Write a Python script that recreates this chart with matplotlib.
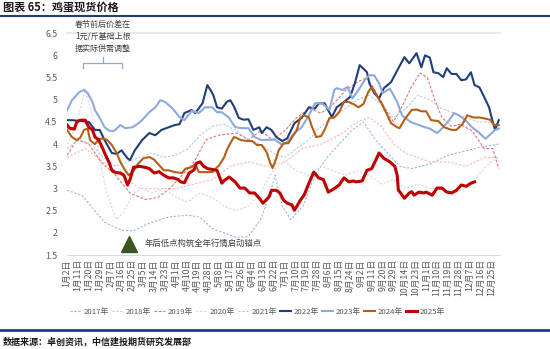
import matplotlib
matplotlib.use('Agg')
import matplotlib.pyplot as plt

plt.rcParams['font.family'] = ['Noto Sans CJK SC', 'DejaVu Sans']

# 横轴为交易日序号，每9个交易日标注一个日期
tick_labels = ['1月2日', '1月11日', '1月20日', '1月29日', '2月7日', '2月16日', '2月25日',
               '3月5日', '3月14日', '3月23日', '4月1日', '4月10日', '4月19日', '4月28日',
               '5月8日', '5月17日', '5月26日', '6月4日', '6月13日', '6月22日', '7月1日',
               '7月10日', '7月19日', '7月28日', '8月6日', '8月15日', '8月24日', '9月2日',
               '9月11日', '9月20日', '9月29日', '10月14日', '10月23日', '11月1日', '11月10日',
               '11月19日', '11月28日', '12月7日', '12月16日', '12月25日']
y_ticks = [1.5, 2, 2.5, 3, 3.5, 4, 4.5, 5, 5.5, 6, 6.5]

# 各年份鸡蛋现货价格（元/斤）
x2017 = [0, 12, 23, 31, 45, 55, 68, 84, 100, 110, 120, 130, 140, 150, 160, 168, 172, 178, 185,
         195, 205, 215, 225, 235, 245, 255, 265, 275, 285, 300, 315, 330, 345, 357]
y2017 = [2.96, 2.85, 2.5, 2.24, 2.06, 2.05, 2.22, 2.36, 2.4, 2.35, 2.1, 2.0, 1.9, 1.92, 2.3,
         2.9, 3.3, 2.6, 2.3, 2.6, 3.3, 3.7, 4.0, 4.3, 4.5, 4.1, 3.8, 3.5, 3.45, 3.55, 3.75,
         3.85, 3.95, 4.0]
x2018 = [0, 15, 30, 45, 60, 75, 90, 105, 120, 135, 150, 165, 180, 195, 210, 225, 240, 250,
         260, 270, 280, 290, 300, 315, 330, 345, 357]
y2018 = [3.7, 3.9, 3.6, 3.3, 3.0, 3.0, 3.0, 3.1, 3.2, 3.5, 3.6, 3.5, 3.6, 3.9, 4.0, 4.2, 4.5,
         4.6, 4.4, 4.0, 3.8, 3.7, 3.6, 3.6, 3.5, 3.7, 3.7]
x2019 = [0, 8, 18, 28, 40, 52, 65, 75, 85, 95, 105, 115, 125, 140, 150, 160, 170, 180, 190,
         200, 210, 220, 230, 240, 248, 255, 265, 270, 278, 285, 292, 298, 304, 310, 318, 325,
         335, 345, 352, 357]
y2019 = [3.75, 4.1, 4.0, 3.6, 3.3, 2.9, 2.75, 2.8, 3.0, 3.3, 3.6, 4.1, 4.2, 4.25, 4.1, 4.3,
         4.1, 4.3, 4.6, 4.8, 4.7, 4.9, 5.2, 5.4, 5.5, 5.2, 4.7, 4.5, 4.9, 5.3, 5.6, 5.5, 5.0,
         4.6, 4.4, 4.45, 4.3, 3.9, 3.9, 3.45]
x2020 = [0, 6, 11, 15, 20, 24, 28, 33, 38, 41, 46, 50, 55, 62, 70, 80, 90, 100, 110, 120, 130,
         140, 150, 160, 170, 180, 190, 200, 210, 220, 230, 240, 250, 260, 270, 280, 290, 300,
         310, 320, 330, 340, 350, 357]
y2020 = [4.0, 4.3, 4.8, 5.25, 4.7, 4.2, 3.5, 2.9, 2.5, 2.3, 2.45, 2.65, 2.9, 3.0, 2.9, 3.0,
         2.8, 2.7, 2.9, 2.8, 2.6, 2.5, 2.6, 2.9, 3.4, 3.6, 3.4, 3.3, 3.5, 3.4, 3.3, 3.4, 3.3,
         3.1, 3.2, 3.0, 3.1, 3.0, 3.0, 2.9, 3.0, 3.3, 3.6, 3.7]
x2021 = [0, 10, 20, 30, 40, 50, 60, 70, 80, 90, 100, 110, 120, 130, 140, 150, 160, 170, 180,
         190, 200, 210, 220, 230, 240, 250, 260, 270, 280, 290, 300, 310, 320, 330, 340, 350,
         357]
y2021 = [3.9, 4.1, 4.0, 3.7, 3.5, 3.6, 3.7, 3.8, 3.7, 3.75, 3.9, 4.2, 4.4, 4.45, 4.3, 4.1,
         4.0, 3.8, 3.7, 3.9, 4.1, 4.4, 4.6, 4.8, 5.0, 5.1, 4.9, 4.6, 4.8, 5.1, 5.0, 4.8, 4.7,
         4.6, 4.5, 4.5, 4.45]
x2022 = [0, 4, 12, 18, 23, 27, 31, 37, 41, 45, 50, 52, 56, 62, 68, 73, 78, 84, 89, 93, 97,
         103, 106, 112, 116, 119, 121, 124, 128, 132, 135, 138, 142, 146, 150, 154, 159, 161,
         165, 169, 173, 178, 182, 188, 194, 200, 205, 208, 213, 219, 223, 229, 234, 238, 242,
         245, 248, 250, 254, 258, 262, 268, 274, 279, 283, 289, 293, 296, 300, 303, 307, 311,
         314, 318, 322, 326, 330, 334, 337, 341, 345, 349, 351, 354, 357]
y2022 = [4.54, 4.54, 4.52, 4.5, 4.32, 4.32, 4.09, 3.8, 3.78, 3.86, 3.68, 3.64, 3.86, 4.09,
         4.25, 4.2, 4.32, 4.38, 4.43, 4.45, 4.7, 4.77, 4.7, 4.92, 5.33, 5.2, 5.1, 4.83, 4.8,
         4.95, 4.99, 4.85, 4.59, 4.55, 4.56, 4.32, 4.38, 4.25, 4.38, 4.32, 4.16, 4.07, 4.13,
         4.47, 4.59, 4.83, 4.8, 4.92, 4.92, 4.61, 4.83, 4.95, 5.06, 5.37, 5.78, 5.7, 5.62,
         5.37, 5.15, 5.03, 5.26, 5.4, 5.71, 5.96, 5.82, 6.05, 5.73, 6.0, 5.95, 5.62, 5.6, 5.51,
         5.71, 5.58, 5.58, 5.44, 5.46, 5.62, 5.33, 5.28, 5.06, 4.83, 4.61, 4.32, 4.54]
x2023 = [0, 4, 10, 14, 17, 21, 23, 27, 31, 35, 39, 44, 48, 54, 58, 62, 68, 73, 77, 81, 87, 93,
         97, 103, 109, 114, 120, 124, 128, 134, 139, 145, 150, 155, 161, 167, 172, 178, 182,
         188, 194, 200, 205, 211, 217, 221, 223, 228, 232, 236, 242, 246, 250, 254, 258, 261,
         267, 273, 277, 284, 292, 296, 300, 306, 310, 316, 320, 324, 329, 335, 341, 346, 350,
         354, 357]
y2023 = [4.77, 4.99, 5.17, 5.22, 5.15, 4.95, 4.77, 4.59, 4.38, 4.3, 4.3, 4.43, 4.36, 4.38,
         4.45, 4.54, 4.72, 4.83, 4.99, 4.95, 4.81, 4.61, 4.54, 4.75, 4.7, 4.83, 4.83, 4.72,
         4.72, 4.59, 4.38, 4.36, 4.36, 4.16, 4.09, 4.1, 4.1, 3.98, 4.05, 4.25, 4.38, 4.65,
         4.92, 4.92, 4.77, 5.22, 5.26, 5.22, 5.29, 5.03, 5.26, 5.44, 5.55, 5.55, 5.37, 5.15,
         5.25, 4.95, 4.65, 4.5, 4.42, 4.38, 4.35, 4.25, 4.35, 4.54, 4.7, 4.65, 4.55, 4.38,
         4.25, 4.12, 4.22, 4.32, 4.35]
x2024 = [0, 4, 8, 11, 14, 17, 19, 23, 26, 29, 33, 37, 41, 44, 48, 51, 55, 59, 63, 68, 72, 76,
         80, 84, 89, 95, 98, 103, 106, 109, 115, 120, 126, 130, 132, 135, 138, 140, 144, 149,
         153, 157, 161, 165, 168, 170, 172, 175, 179, 183, 186, 190, 193, 196, 200, 202, 206,
         210, 213, 217, 221, 225, 229, 233, 237, 241, 245, 249, 252, 256, 260, 264, 268, 273,
         275, 279, 285, 289, 293, 297, 301, 307, 312, 318, 322, 327, 331, 336, 341, 345, 350,
         353, 357]
y2024 = [4.32, 4.16, 4.09, 4.15, 4.32, 4.35, 4.09, 4.0, 4.1, 4.13, 4.1, 3.98, 3.8, 3.6, 3.41,
         3.3, 3.4, 3.57, 3.68, 3.71, 3.65, 3.53, 3.41, 3.41, 3.37, 3.35, 3.45, 3.48, 3.55,
         3.37, 3.37, 3.37, 3.53, 3.71, 3.86, 4.02, 4.16, 4.14, 4.09, 4.07, 4.07, 3.98, 3.98,
         3.82, 3.57, 3.46, 3.6, 3.86, 4.02, 4.02, 4.15, 4.32, 4.6, 4.65, 4.6, 4.43, 4.16, 4.18,
         4.32, 4.59, 4.6, 4.72, 4.95, 4.95, 4.9, 4.83, 4.9, 5.17, 5.29, 5.1, 4.92, 4.7, 4.47,
         4.38, 4.36, 4.55, 4.77, 4.78, 4.74, 4.74, 4.54, 4.52, 4.38, 4.32, 4.32, 4.45, 4.65,
         4.6, 4.6, 4.58, 4.55, 4.43, 4.43]
x2025 = [0, 2, 6, 8, 11, 15, 18, 21, 23, 26, 29, 31, 35, 37, 40, 44, 47, 50, 52, 55, 60, 64,
         68, 72, 76, 80, 84, 88, 92, 94, 97, 101, 105, 107, 110, 113, 116, 120, 124, 128, 130,
         134, 139, 143, 147, 151, 155, 159, 162, 167, 169, 173, 176, 179, 182, 186, 188, 193,
         196, 200, 204, 208, 212, 216, 220, 225, 229, 233, 237, 239, 244, 248, 252, 256, 258,
         262, 267, 271, 273, 274, 275, 279, 283, 285, 287, 291, 295, 297, 302, 306, 310, 314,
         318, 322, 326, 330, 334, 337]
y2025 = [4.43, 4.36, 4.34, 4.5, 4.54, 4.54, 4.38, 4.32, 4.16, 4.1, 3.93, 3.8, 3.57, 3.41,
         3.36, 3.35, 3.3, 3.08, 3.2, 3.48, 3.5, 3.48, 3.45, 3.35, 3.38, 3.3, 3.24, 3.24, 3.2,
         3.15, 3.13, 3.35, 3.42, 3.57, 3.6, 3.5, 3.45, 3.43, 3.41, 3.12, 3.18, 3.26, 3.15,
         3.01, 3.01, 2.9, 2.9, 2.78, 2.67, 2.81, 2.96, 2.96, 2.9, 2.74, 2.67, 2.63, 2.51, 2.74,
         2.85, 3.12, 3.37, 3.24, 3.2, 2.92, 2.98, 3.08, 3.24, 3.15, 3.17, 3.15, 3.17, 3.41,
         3.45, 3.68, 3.8, 3.68, 3.6, 3.5, 3.3, 2.96, 2.93, 2.78, 2.9, 2.93, 2.85, 2.92, 2.9,
         2.92, 2.85, 3.01, 3.01, 2.92, 2.9, 2.96, 3.08, 3.05, 3.12, 3.15]

fig = plt.figure(figsize=(5.5, 3.49), dpi=100)
ax = fig.add_axes([0.122, 0.269, 0.787, 0.636])

# 往年用虚线，近年用实线
ax.plot(x2017, y2017, color='#9db5de', lw=0.8, ls=(0, (2, 1.5)), label='2017年')
ax.plot(x2018, y2018, color='#f3b9b6', lw=0.8, ls=(0, (2, 1.5)), label='2018年')
ax.plot(x2019, y2019, color='#e57373', lw=0.8, ls=(0, (2.5, 1.5)), label='2019年')
ax.plot(x2020, y2020, color='#d3d8e2', lw=0.8, ls=(0, (2, 1.5)), label='2020年')
ax.plot(x2021, y2021, color='#b5c7e6', lw=0.8, ls=(0, (2, 1.5)), label='2021年')
ax.plot(x2022, y2022, color='#203f7a', lw=1.5, label='2022年')
ax.plot(x2023, y2023, color='#8eaadc', lw=1.5, label='2023年')
ax.plot(x2024, y2024, color='#b45f18', lw=1.5, label='2024年')
ax.plot(x2025, y2025, color='#c00000', lw=2.2, label='2025年')

ax.set_xlim(0, 358)
ax.set_ylim(1.5, 6.5)
ax.set_yticks(y_ticks)
ax.set_yticklabels([f'{v:g}' for v in y_ticks])
ax.set_xticks(range(0, 9 * len(tick_labels), 9))
ax.set_xticklabels(tick_labels, rotation=90)
ax.tick_params(axis='both', length=0, labelsize=6.3, labelcolor='#595959')
ax.tick_params(axis='y', pad=7)
ax.tick_params(axis='x', pad=3)
for s in ['left', 'right', 'top']:
    ax.spines[s].set_visible(False)
ax.spines['bottom'].set_color('#d9d9d9')
ax.axhline(6.5, color='#e8e8e8', lw=1.5, clip_on=False)

# 春节前后价差说明
ax.text(29.5, 6.43, '春节前后价差在\n1元/斤基础上根\n据实际供需调整', ha='center', va='center',
        fontsize=5.8, color='#404040', linespacing=1.4)
ax.plot([13, 13, 45.5, 45.5], [5.71, 5.82, 5.82, 5.71], color='#8eaadc', lw=0.9, clip_on=False)
ax.plot([29.5, 29.5], [5.82, 5.96], color='#8eaadc', lw=0.9, clip_on=False)

# 年后低点标记
ax.plot([51], [1.76], marker='^', ms=11, color='#375623', clip_on=False)
ax.text(64, 1.76, '年后低点构筑全年行情启动锚点', fontsize=6, color='#404040', va='center')

fig.legend(loc='center', bbox_to_anchor=(0.468, 0.106), ncol=9, frameon=False, fontsize=5.6,
           handlelength=1.4, handletextpad=0.3, columnspacing=0.45, labelcolor='#595959')

fig.text(0.006, 0.977, '图表 65：鸡蛋现货价格', fontsize=8, fontweight='bold', va='center',
         color='#1a1a1a')
fig.add_artist(plt.Line2D([0, 1], [0.954, 0.954], color='#1f3e79', lw=1.5))
fig.add_artist(plt.Line2D([0, 1], [0.054, 0.054], color='#1f3e79', lw=2))
fig.text(0.006, 0.022, '数据来源：卓创资讯，中信建投期货研究发展部', fontsize=6.5,
         fontweight='bold', style='italic', va='center', color='#1a1a1a')

fig.savefig('out.png', dpi=100)
plt.close(fig)
